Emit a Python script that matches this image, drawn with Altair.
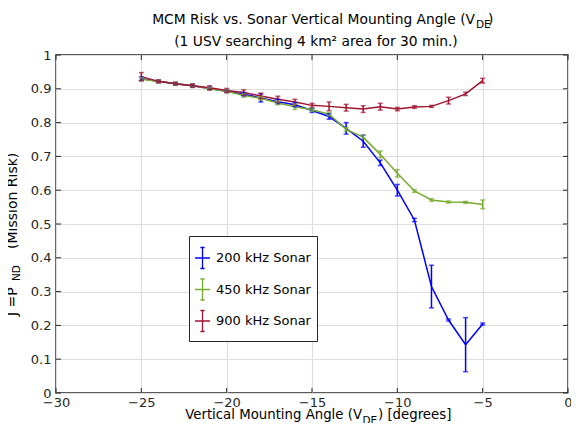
import altair as alt
import pandas as pd

angles = [-25, -24, -23, -22, -21, -20, -19, -18, -17, -16, -15, -14, -13, -12, -11, -10, -9, -8, -7, -6, -5]
series_names = ["200 kHz Sonar", "450 kHz Sonar", "900 kHz Sonar"]
series_colors = ["#0000ff", "#77ac30", "#a2142f"]

risk_200 = [0.930, 0.922, 0.915, 0.909, 0.901, 0.893, 0.884, 0.873, 0.862, 0.853, 0.836, 0.818, 0.783, 0.745, 0.681, 0.600, 0.512, 0.315, 0.216, 0.143, 0.204]
err_200 = [0.005, 0.004, 0.004, 0.004, 0.004, 0.004, 0.005, 0.012, 0.007, 0.006, 0.006, 0.008, 0.017, 0.018, 0.008, 0.017, 0.005, 0.063, 0.003, 0.080, 0.003]
risk_450 = [0.928, 0.922, 0.915, 0.910, 0.900, 0.893, 0.880, 0.872, 0.858, 0.847, 0.838, 0.825, 0.780, 0.757, 0.706, 0.650, 0.598, 0.571, 0.565, 0.564, 0.558]
err_450 = [0.005, 0.004, 0.004, 0.005, 0.004, 0.004, 0.005, 0.005, 0.005, 0.008, 0.005, 0.005, 0.005, 0.005, 0.010, 0.011, 0.004, 0.004, 0.003, 0.003, 0.013]
risk_900 = [0.936, 0.922, 0.915, 0.909, 0.903, 0.895, 0.889, 0.879, 0.869, 0.861, 0.851, 0.848, 0.844, 0.840, 0.847, 0.840, 0.846, 0.848, 0.865, 0.885, 0.924]
err_900 = [0.012, 0.004, 0.004, 0.005, 0.006, 0.006, 0.008, 0.008, 0.009, 0.008, 0.006, 0.013, 0.010, 0.010, 0.010, 0.005, 0.004, 0.003, 0.010, 0.005, 0.007]

x_ticks = [-30, -25, -20, -15, -10, -5, 0]
y_ticks = [0, 0.1, 0.2, 0.3, 0.4, 0.5, 0.6, 0.7, 0.8, 0.9, 1.0]

rows = []
for name, vals, errs in [(series_names[0], risk_200, err_200),
                         (series_names[1], risk_450, err_450),
                         (series_names[2], risk_900, err_900)]:
    for a, v, e in zip(angles, vals, errs):
        rows.append({"angle": a, "risk": v, "lo": v - e, "hi": v + e, "series": name})
df = pd.DataFrame(rows)

W, H = 512, 338
FONT = "DejaVu Sans"
TXT = "#262626"

xs = alt.Scale(domain=[-30, 0], nice=False, zero=False, padding=0)
ys = alt.Scale(domain=[0, 1], nice=False, padding=0)
cs = alt.Scale(domain=series_names, range=series_colors)

legend = alt.Legend(
    title=None, orient="none", legendX=133, legendY=181,
    strokeColor=TXT, fillColor="white", padding=6,
    symbolType="M-0.333,0H0.667M0.167,-0.7V0.7M0.027,-0.7H0.307M0.027,0.7H0.307",
    symbolSize=900, symbolStrokeWidth=1.3, symbolFillColor="transparent",
    labelFontSize=13, labelFont=FONT, labelColor="black", labelOffset=0,
    rowPadding=1.5, symbolOffset=-11,
)

x_axis = alt.Axis(values=x_ticks, title=None, grid=True, ticks=False, domain=False,
                  labelFontSize=13, labelFont=FONT, labelColor=TXT, labelPadding=3,
                  labelOverlap=False, labelBound=False, labelFlush=False,
                  gridColor="#dedede", gridWidth=1.2, format="d")
y_axis = alt.Axis(values=y_ticks, title=None, grid=True, ticks=False, domain=False,
                  labelFontSize=13, labelFont=FONT, labelColor=TXT, labelPadding=5,
                  labelOverlap=False, labelBound=False, labelFlush=False,
                  gridColor="#dedede", gridWidth=1.2, labelExpr="format(datum.value, '~g')")


def X(field):
    return alt.X(field, scale=xs, axis=x_axis)


def Y(field):
    return alt.Y(field, scale=ys, axis=y_axis)


base = alt.Chart(df)

lines = base.mark_line(strokeWidth=1.5).encode(
    x=X("angle:Q"), y=Y("risk:Q"),
    color=alt.Color("series:N", scale=cs, legend=legend),
    order=alt.Order("angle:Q"),
)
bars = base.mark_rule(strokeWidth=1.5).encode(
    x=X("angle:Q"), y=Y("lo:Q"), y2="hi:Q",
    color=alt.Color("series:N", scale=cs, legend=None),
)
cap_lo = base.mark_tick(orient="horizontal", size=5, thickness=1.5).encode(
    x=X("angle:Q"), y=Y("lo:Q"), color=alt.Color("series:N", scale=cs, legend=None))
cap_hi = base.mark_tick(orient="horizontal", size=5, thickness=1.5).encode(
    x=X("angle:Q"), y=Y("hi:Q"), color=alt.Color("series:N", scale=cs, legend=None))

xt = alt.Chart(pd.DataFrame({"angle": x_ticks}))
yt = alt.Chart(pd.DataFrame({"risk": y_ticks}))
tick_b = xt.mark_rule(color=TXT, strokeWidth=1).encode(x=X("angle:Q"), y=alt.value(H), y2=alt.value(H - 5))
tick_t = xt.mark_rule(color=TXT, strokeWidth=1).encode(x=X("angle:Q"), y=alt.value(0), y2=alt.value(5))
tick_l = yt.mark_rule(color=TXT, strokeWidth=1).encode(y=Y("risk:Q"), x=alt.value(0), x2=alt.value(5))
tick_r = yt.mark_rule(color=TXT, strokeWidth=1).encode(y=Y("risk:Q"), x=alt.value(W), x2=alt.value(W - 5))

one = alt.Chart(pd.DataFrame({"k": [0]}))


def txt(s, x, y, size, align="left", angle=0):
    m = one.mark_text(text=s, align=align, baseline="middle", font=FONT, fontSize=size,
                      color="black", angle=angle)
    return m.encode(x=alt.value(x), y=alt.value(y))


texts = [
    txt("MCM Risk vs. Sonar Vertical Mounting Angle (V", 419, -35, 13.8, align="right"),
    txt("DE", 420, -30, 10.5),
    txt(")", 432, -35, 13.8),
    txt("(1 USV searching 4 km\u00b2 area for 30 min.)", 260, -13, 13.8, align="center"),
    txt("Vertical Mounting Angle (V", 306, 360, 13.3, align="right"),
    txt("DE", 306.5, 366, 10.5),
    txt(") [degrees]", 322, 360, 13.3),
    txt("J =P", -43.3, 261, 14, angle=270),
    txt("ND", -39, 226, 10.5, angle=270),
    txt("(Mission Risk)", -43.3, 194, 14, angle=270),
]

chart = alt.layer(lines, bars, cap_lo, cap_hi, tick_b, tick_t, tick_l, tick_r, *texts).properties(
    width=W, height=H,
    autosize=alt.AutoSizeParams(type="none"),
    padding={"left": 48, "top": 47, "right": 3, "bottom": 30},
    background="white",
).configure_view(stroke=TXT, strokeWidth=1.5)

chart.save("out.html", embed_options={"renderer": "svg", "actions": False})
